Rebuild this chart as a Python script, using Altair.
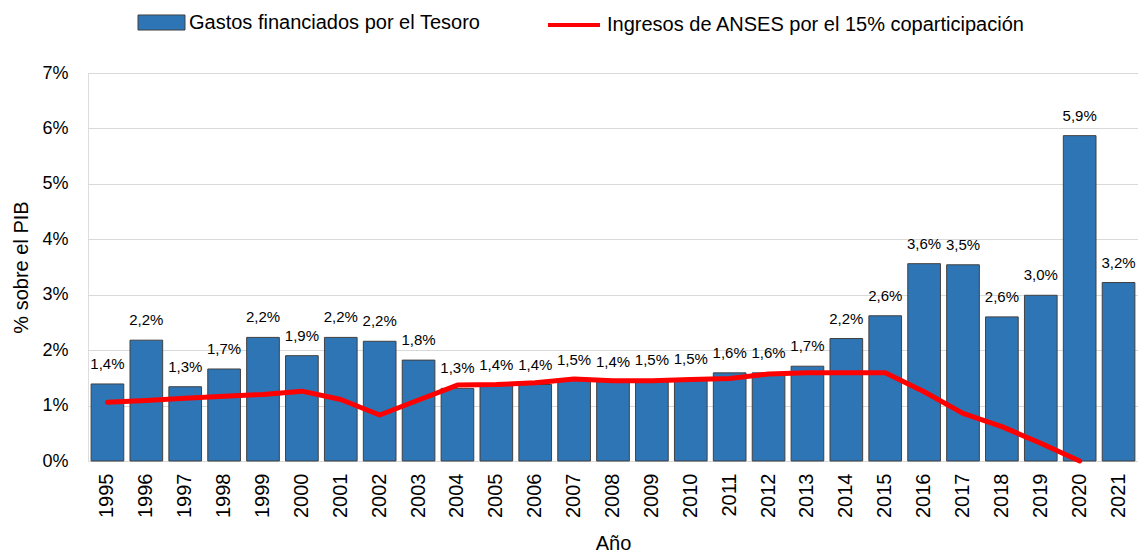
import altair as alt
import pandas as pd

years = [str(y) for y in range(1995, 2022)]
gastos = [1.39, 2.18, 1.34, 1.66, 2.23, 1.90, 2.23, 2.16, 1.82, 1.31, 1.37, 1.38,
          1.47, 1.43, 1.47, 1.48, 1.59, 1.59, 1.71, 2.21, 2.62, 3.56, 3.54, 2.60,
          2.99, 5.87, 3.22]
etiquetas = ["1,4%", "2,2%", "1,3%", "1,7%", "2,2%", "1,9%", "2,2%", "2,2%", "1,8%",
             "1,3%", "1,4%", "1,4%", "1,5%", "1,4%", "1,5%", "1,5%", "1,6%", "1,6%",
             "1,7%", "2,2%", "2,6%", "3,6%", "3,5%", "2,6%", "3,0%", "5,9%", "3,2%"]
anses_years = [str(y) for y in range(1995, 2021)]
anses = [1.06, 1.09, 1.13, 1.17, 1.20, 1.26, 1.11, 0.83, 1.10, 1.37, 1.38, 1.41,
         1.48, 1.45, 1.45, 1.47, 1.49, 1.57, 1.59, 1.59, 1.59, 1.25, 0.86, 0.62,
         0.32, 0.00]

serie_bar = "Gastos financiados por el Tesoro"
serie_line = "Ingresos de ANSES por el 15% coparticipación"

df_bar = pd.DataFrame({"anio": years, "valor": gastos, "etiqueta": etiquetas,
                       "serie": serie_bar})
df_line = pd.DataFrame({"anio": anses_years, "valor": anses, "serie2": serie_line})

FONT = "Liberation Sans"

x = alt.X("anio:N", sort=None, title="Año",
          scale=alt.Scale(paddingInner=0.16, paddingOuter=0.08),
          axis=alt.Axis(labelAngle=270, labelFontSize=20, labelFont=FONT,
                        labelColor="#000000", labelPadding=12, ticks=False,
                        domain=True, domainColor="#D9D9D9", titleFontSize=20,
                        titleFont=FONT, titleFontWeight="normal", titleColor="#000000",
                        titlePadding=16, grid=False, labelBaseline="middle",
                        labelAlign="right"))

y = alt.Y("valor:Q", title="% sobre el PIB",
          scale=alt.Scale(domain=[0, 7], nice=False),
          axis=alt.Axis(values=[0, 1, 2, 3, 4, 5, 6, 7], labelExpr="datum.value + '%'",
                        labelFontSize=18, labelFont=FONT, labelColor="#000000",
                        labelPadding=20, ticks=False, domain=False, grid=True,
                        gridColor="#D9D9D9", gridWidth=1, titleFontSize=20,
                        titleFont=FONT, titleFontWeight="normal", titleColor="#000000",
                        titlePadding=10))

bars = alt.Chart(df_bar).mark_bar(stroke="#404040", strokeWidth=1).encode(
    x=x, y=y,
    fill=alt.Fill("serie:N", scale=alt.Scale(range=["#2E75B6"]),
                  legend=alt.Legend(title=None, orient="none", legendX=61, legendY=-63,
                                    symbolType="M-2,-0.64L2,-0.64L2,0.64L-2,0.64Z",
                                    symbolSize=552, symbolStrokeColor="#404040",
                                    symbolStrokeWidth=1, labelFontSize=20,
                                    labelFont=FONT, labelColor="#000000",
                                    labelLimit=600, labelOffset=15))
)

labels = alt.Chart(df_bar).mark_text(baseline="alphabetic", dy=-15, fontSize=15,
                                     font=FONT, color="#000000").encode(
    x=alt.X("anio:N", sort=None), y="valor:Q", text="etiqueta:N")

line = alt.Chart(df_line).mark_line(strokeWidth=5, strokeJoin="round",
                                    strokeCap="round").encode(
    x=alt.X("anio:N", sort=None), y="valor:Q",
    stroke=alt.Stroke("serie2:N", scale=alt.Scale(range=["#FF0000"]),
                      legend=alt.Legend(title=None, orient="none", legendX=471,
                                        legendY=-63, symbolType="M-2,0L2,0",
                                        symbolSize=676, symbolStrokeWidth=4,
                                        labelFontSize=20, labelFont=FONT,
                                        labelColor="#000000", labelLimit=600,
                                        labelOffset=18))
)

chart = alt.layer(bars, line, labels).properties(
    width=1050, height=388,
    padding={"left": 3, "top": 2, "right": 0, "bottom": 0}
).configure_view(stroke=None).configure(background="white")

chart.save("out.html", embed_options={"renderer": "svg", "actions": False})
